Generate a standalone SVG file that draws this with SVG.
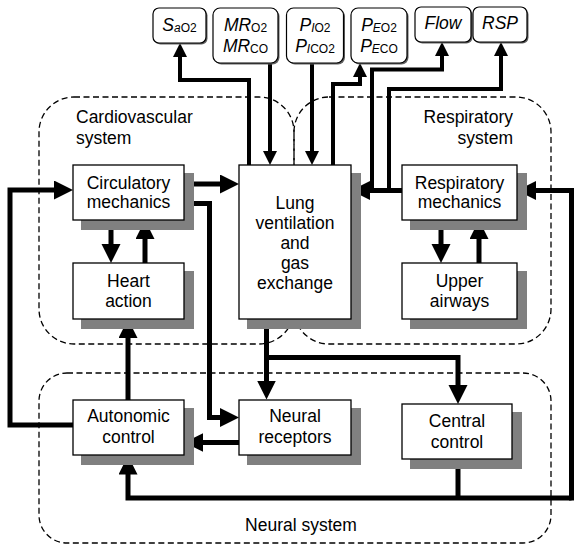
<svg xmlns="http://www.w3.org/2000/svg" width="575" height="547" viewBox="0 0 575 547">
<style>
.t{font-family:"Liberation Sans",Arial,sans-serif;font-size:17.5px;fill:#000}
.m{text-anchor:middle}
.i{font-style:italic}
.s{font-size:12px;font-style:normal}
.box{fill:#fff;stroke:#000;stroke-width:1.3}
.sh{fill:#808080}
.tb{fill:#fff;stroke:#000;stroke-width:1.2}
.tsh{fill:#606060}
.reg{fill:none;stroke:#000;stroke-width:1.3;stroke-dasharray:6 3.5}
.w{fill:none;stroke:#000;stroke-width:5;stroke-linejoin:miter}
.n{fill:none;stroke:#000;stroke-width:4;stroke-linejoin:miter}
</style>
<defs>
<marker id="A" markerUnits="userSpaceOnUse" markerWidth="20" markerHeight="20" refX="9" refY="9.5" orient="auto"><path d="M0,0 L19,9.5 L0,19 z" fill="#000"/></marker>
<marker id="B" markerUnits="userSpaceOnUse" markerWidth="16" markerHeight="16" refX="6" refY="7" orient="auto"><path d="M0,0 L14,7 L0,14 z" fill="#000"/></marker>
</defs>
<rect width="575" height="547" fill="#fff"/>
<g id="regions">
<rect id="cardiovascular-system" class="reg" x="39" y="97" width="255" height="247" rx="35" ry="35"/>
<rect id="respiratory-system" class="reg" x="294" y="97" width="257" height="247" rx="35" ry="35"/>
<rect id="neural-system" class="reg" x="39" y="373" width="512" height="170" rx="28" ry="28"/>
<text class="t" x="76" y="123">Cardiovascular</text>
<text class="t" x="76" y="144">system</text>
<text class="t" x="513" y="123" text-anchor="end">Respiratory</text>
<text class="t" x="513" y="144" text-anchor="end">system</text>
<text class="t m" x="301" y="531">Neural system</text>
</g>
<g id="connectors">
<path class="w" d="M184,184 H229" marker-end="url(#A)"/>
<path class="w" d="M184,203.5 H209.5 V417.5 H229" marker-end="url(#A)"/>
<path class="w" d="M111,220 V253" marker-end="url(#A)"/>
<path class="w" d="M145,263 V230" marker-end="url(#A)"/>
<path class="w" d="M402,190.5 H361" marker-end="url(#A)"/>
<path class="w" d="M441,220 V253" marker-end="url(#A)"/>
<path class="w" d="M479,263 V230" marker-end="url(#A)"/>
<path class="w" d="M266.5,319 V389.5" marker-end="url(#A)"/>
<path class="w" d="M266.5,357.5 H458 V394" marker-end="url(#A)"/>
<path class="w" d="M239,442.5 H194.3" marker-end="url(#A)"/>
<path class="w" d="M128,400 V329" marker-end="url(#A)"/>
<path class="w" d="M73,425 H10 V190 H63" marker-end="url(#A)"/>
<path class="w" d="M458,459 V498"/>
<path class="w" d="M571.5,498 H128 V465.5" marker-end="url(#A)"/>
<path class="w" d="M571.5,500.5 V190.5 H527" marker-end="url(#A)"/>
<path class="n" d="M249,165 V80 H180 V51" marker-end="url(#B)"/>
<path class="n" d="M270,63 V157" marker-end="url(#B)"/>
<path class="n" d="M312,63 V157" marker-end="url(#B)"/>
<path class="n" d="M333,165 V84 H360 V71" marker-end="url(#B)"/>
<path class="n" d="M372,190 V69.5 H442 V50" marker-end="url(#B)"/>
<path class="n" d="M389,190 V89 H501 V50" marker-end="url(#B)"/>
</g>
<g id="circulatory-mechanics">
<rect class="sh" x="81" y="173" width="113" height="57"/>
<rect class="box" x="73" y="165" width="111" height="55"/>
<text class="t m" x="128.5" y="188.5">Circulatory</text>
<text class="t m" x="128.5" y="208">mechanics</text>
</g>
<g id="heart-action">
<rect class="sh" x="81" y="271" width="113" height="58"/>
<rect class="box" x="73" y="263" width="111" height="56"/>
<text class="t m" x="128.5" y="287">Heart</text>
<text class="t m" x="128.5" y="306.5">action</text>
</g>
<g id="lung">
<rect class="sh" x="247" y="173" width="114" height="156"/>
<rect class="box" x="239" y="165" width="112" height="154"/>
<text class="t m" x="295" y="209">Lung</text>
<text class="t m" x="295" y="229">ventilation</text>
<text class="t m" x="295" y="249">and</text>
<text class="t m" x="295" y="269">gas</text>
<text class="t m" x="295" y="289">exchange</text>
</g>
<g id="respiratory-mechanics">
<rect class="sh" x="410" y="173" width="117" height="57"/>
<rect class="box" x="402" y="165" width="115" height="55"/>
<text class="t m" x="459.5" y="188.5">Respiratory</text>
<text class="t m" x="459.5" y="208">mechanics</text>
</g>
<g id="upper-airways">
<rect class="sh" x="410" y="271" width="117" height="58"/>
<rect class="box" x="402" y="263" width="115" height="56"/>
<text class="t m" x="459.5" y="287">Upper</text>
<text class="t m" x="459.5" y="306.5">airways</text>
</g>
<g id="autonomic-control">
<rect class="sh" x="81" y="408" width="113" height="57"/>
<rect class="box" x="73" y="400" width="111" height="55"/>
<text class="t m" x="128.5" y="422">Autonomic</text>
<text class="t m" x="128.5" y="443">control</text>
</g>
<g id="neural-receptors">
<rect class="sh" x="247" y="408" width="114" height="57"/>
<rect class="box" x="239" y="400" width="112" height="55"/>
<text class="t m" x="295" y="422">Neural</text>
<text class="t m" x="295" y="443">receptors</text>
</g>
<g id="central-control">
<rect class="sh" x="410" y="412" width="112" height="57"/>
<rect class="box" x="402" y="404" width="110" height="55"/>
<text class="t m" x="457" y="427">Central</text>
<text class="t m" x="457" y="447.5">control</text>
</g>
<g id="sao2">
<rect class="tsh" x="154.5" y="9.5" width="53" height="35" rx="6"/>
<rect class="tb" x="153" y="8" width="53" height="35" rx="6"/>
<text class="t m" x="179.5" y="31"><tspan class="i">S</tspan><tspan class="s" dy="1"><tspan class="i">a</tspan>O2</tspan></text>
</g>
<g id="mr">
<rect class="tsh" x="214.5" y="9.5" width="65" height="55" rx="7"/>
<rect class="tb" x="213" y="8" width="65" height="55" rx="7"/>
<text class="t m" x="245.5" y="30.5"><tspan class="i">MR</tspan><tspan class="s" dy="1">O2</tspan></text>
<text class="t m" x="245.5" y="51.5"><tspan class="i">MR</tspan><tspan class="s" dy="1">CO</tspan></text>
</g>
<g id="pi">
<rect class="tsh" x="288" y="9.5" width="57" height="55" rx="7"/>
<rect class="tb" x="286.5" y="8" width="57" height="55" rx="7"/>
<text class="t m" x="315" y="30.5"><tspan class="i">P</tspan><tspan class="s" dy="1"><tspan class="i">I</tspan>O2</tspan></text>
<text class="t m" x="315" y="51.5"><tspan class="i">P</tspan><tspan class="s" dy="1"><tspan class="i">I</tspan>CO2</tspan></text>
</g>
<g id="pe">
<rect class="tsh" x="352.5" y="9.5" width="56" height="55" rx="7"/>
<rect class="tb" x="351" y="8" width="56" height="55" rx="7"/>
<text class="t m" x="379" y="30.5"><tspan class="i">P</tspan><tspan class="s" dy="1"><tspan class="i">E</tspan>O2</tspan></text>
<text class="t m" x="379" y="51.5"><tspan class="i">P</tspan><tspan class="s" dy="1"><tspan class="i">E</tspan>CO</tspan></text>
</g>
<g id="flow">
<rect class="tsh" x="416.5" y="8.5" width="56" height="35" rx="6"/>
<rect class="tb" x="415" y="7" width="56" height="35" rx="6"/>
<text class="t m i" x="443" y="28.5">Flow</text>
</g>
<g id="rsp">
<rect class="tsh" x="474.5" y="8.5" width="54" height="35" rx="6"/>
<rect class="tb" x="473" y="7" width="54" height="35" rx="6"/>
<text class="t m i" x="500" y="28.5">RSP</text>
</g>
</svg>
